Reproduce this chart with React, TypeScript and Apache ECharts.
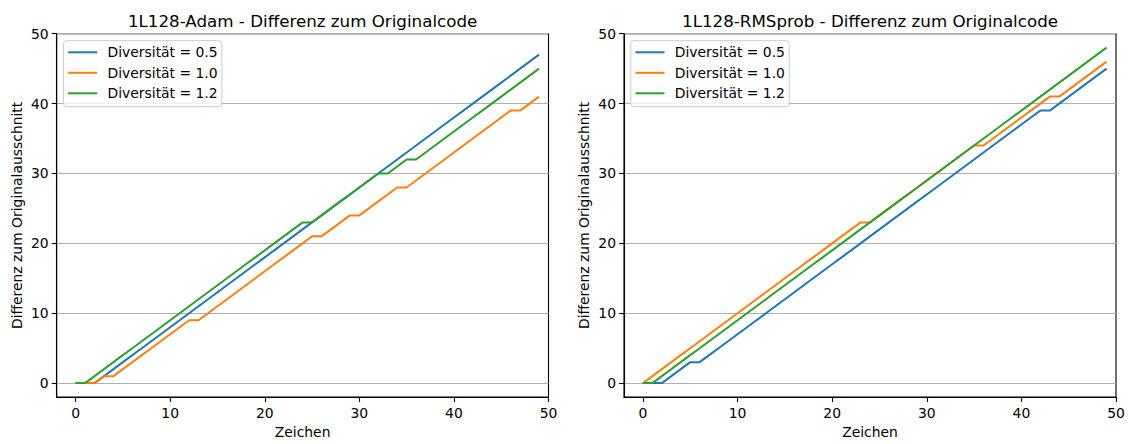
import React, { useEffect, useRef } from "react";
import * as echarts from "echarts";

const zeichen = [
  0, 1, 2, 3, 4, 5, 6, 7, 8, 9,
  10, 11, 12, 13, 14, 15, 16, 17, 18, 19,
  20, 21, 22, 23, 24, 25, 26, 27, 28, 29,
  30, 31, 32, 33, 34, 35, 36, 37, 38, 39,
  40, 41, 42, 43, 44, 45, 46, 47, 48, 49,
];

const seriesNames = ["Diversität = 0.5", "Diversität = 1.0", "Diversität = 1.2"];
const panelTitles = [
  "1L128-Adam - Differenz zum Originalcode",
  "1L128-RMSprob - Differenz zum Originalcode",
];
const xAxisName = "Zeichen";
const yAxisName = "Differenz zum Originalausschnitt";
const tickValues = [0, 10, 20, 30, 40, 50];

const adam05 = [
  0, 0, 0, 1, 2, 3, 4, 5, 6, 7,
  8, 9, 10, 11, 12, 13, 14, 15, 16, 17,
  18, 19, 20, 21, 22, 23, 24, 25, 26, 27,
  28, 29, 30, 31, 32, 33, 34, 35, 36, 37,
  38, 39, 40, 41, 42, 43, 44, 45, 46, 47,
];
const adam10 = [
  0, 0, 0, 1, 1, 2, 3, 4, 5, 6,
  7, 8, 9, 9, 10, 11, 12, 13, 14, 15,
  16, 17, 18, 19, 20, 21, 21, 22, 23, 24,
  24, 25, 26, 27, 28, 28, 29, 30, 31, 32,
  33, 34, 35, 36, 37, 38, 39, 39, 40, 41,
];
const adam12 = [
  0, 0, 1, 2, 3, 4, 5, 6, 7, 8,
  9, 10, 11, 12, 13, 14, 15, 16, 17, 18,
  19, 20, 21, 22, 23, 23, 24, 25, 26, 27,
  28, 29, 30, 30, 31, 32, 32, 33, 34, 35,
  36, 37, 38, 39, 40, 41, 42, 43, 44, 45,
];

const rms05 = [
  0, 0, 0, 1, 2, 3, 3, 4, 5, 6,
  7, 8, 9, 10, 11, 12, 13, 14, 15, 16,
  17, 18, 19, 20, 21, 22, 23, 24, 25, 26,
  27, 28, 29, 30, 31, 32, 33, 34, 35, 36,
  37, 38, 39, 39, 40, 41, 42, 43, 44, 45,
];
const rms10 = [
  0, 1, 2, 3, 4, 5, 6, 7, 8, 9,
  10, 11, 12, 13, 14, 15, 16, 17, 18, 19,
  20, 21, 22, 23, 23, 24, 25, 26, 27, 28,
  29, 30, 31, 32, 33, 34, 34, 35, 36, 37,
  38, 39, 40, 41, 41, 42, 43, 44, 45, 46,
];
const rms12 = [
  0, 0, 1, 2, 3, 4, 5, 6, 7, 8,
  9, 10, 11, 12, 13, 14, 15, 16, 17, 18,
  19, 20, 21, 22, 23, 24, 25, 26, 27, 28,
  29, 30, 31, 32, 33, 34, 35, 36, 37, 38,
  39, 40, 41, 42, 43, 44, 45, 46, 47, 48,
];

const panels = [
  [adam05, adam10, adam12],
  [rms05, rms10, rms12],
];

const COLORS = ["#1f77b4", "#ff7f0e", "#2ca02c"];
const FONT = "DejaVu Sans";
const FS = 13.9;

const GRIDS = [
  { left: 56.7, top: 33.7, width: 491.8, height: 367.5 },
  { left: 624, top: 33.7, width: 492, height: 367.5 },
];

export default function App() {
  const ref = useRef<HTMLDivElement>(null);
  useEffect(() => {
    if (!ref.current) return;
    const chart = echarts.init(ref.current, null, { renderer: "svg" });

    const baseLabel = {
      customValues: tickValues,
      color: "#000",
      fontFamily: FONT,
      fontSize: FS,
      formatter: (v: number) => (v % 10 === 0 && v >= 0 ? String(v) : ""),
    };

    const axisCommon = (gi: number) => ({
      gridIndex: gi,
      type: "value",
      min: -2,
      max: 50,
      splitNumber: 5,
      axisLine: { show: true, onZero: false, lineStyle: { color: "#000", width: 1.1 } },
      axisTick: {
        show: true,
        inside: false,
        length: 5,
        customValues: tickValues,
        lineStyle: { color: "#000", width: 1.1 },
      },
      nameLocation: "middle",
      nameTextStyle: { color: "#000", fontFamily: FONT, fontSize: FS },
    });

    const xAxes = GRIDS.map((_, gi) => ({
      ...axisCommon(gi),
      name: xAxisName,
      nameGap: 27,
      axisLabel: { ...baseLabel, margin: 9 },
      splitLine: { show: false },
    }));
    const yAxes = GRIDS.map((_, gi) => ({
      ...axisCommon(gi),
      name: yAxisName,
      nameGap: 33,
      axisLabel: { ...baseLabel, margin: 8 },
      splitLine: { show: true, lineStyle: { color: "#b0b0b0", width: 1 } },
    }));

    const series: any[] = [];
    panels.forEach((panel, gi) => {
      panel.forEach((vals, si) => {
        series.push({
          type: "line",
          name: seriesNames[si],
          xAxisIndex: gi,
          yAxisIndex: gi,
          data: zeichen.map((x, i) => [x, vals[i]]),
          showSymbol: false,
          symbol: "none",
          lineStyle: { color: COLORS[si], width: 2 },
          itemStyle: { color: COLORS[si] },
          z: 2 + si,
        });
      });
    });

    const graphics: any[] = [];
    GRIDS.forEach((g, gi) => {
      graphics.push({
        type: "text",
        x: g.left + g.width / 2,
        y: 21,
        z: 100,
        style: {
          text: panelTitles[gi],
          fill: "#000",
          font: `16.7px "${FONT}"`,
          textAlign: "center",
          textVerticalAlign: "middle",
        },
      });
      const lx = g.left + 6.8;
      const ly = 40.7;
      graphics.push({
        type: "rect",
        z: 100,
        shape: { x: lx, y: ly, width: 158.4, height: 66, r: 3 },
        style: { fill: "rgba(255,255,255,0.8)", stroke: "#cccccc", lineWidth: 1 },
      });
      seriesNames.forEach((nm, si) => {
        const cy = 52.3 + si * 20.5;
        graphics.push({
          type: "line",
          z: 101,
          shape: { x1: lx + 4.7, y1: cy, x2: lx + 33.7, y2: cy },
          style: { stroke: COLORS[si], lineWidth: 2 },
        });
        graphics.push({
          type: "text",
          z: 101,
          x: lx + 44,
          y: cy,
          style: {
            text: nm,
            fill: "#000",
            font: `${FS}px "${FONT}"`,
            textAlign: "left",
            textVerticalAlign: "middle",
          },
        });
      });
    });

    chart.setOption({
      animation: false,
      backgroundColor: "#fff",
      textStyle: { fontFamily: FONT },
      grid: GRIDS.map((g) => ({
        ...g,
        show: true,
        borderColor: "#000",
        borderWidth: 1.1,
        backgroundColor: "transparent",
        containLabel: false,
      })),
      xAxis: xAxes,
      yAxis: yAxes,
      series,
      graphic: graphics,
    });
    return () => chart.dispose();
  }, []);
  return (
    <div
      ref={ref}
      style={{ position: "absolute", left: 0, top: 0, width: 1129, height: 444 }}
    />
  );
}
